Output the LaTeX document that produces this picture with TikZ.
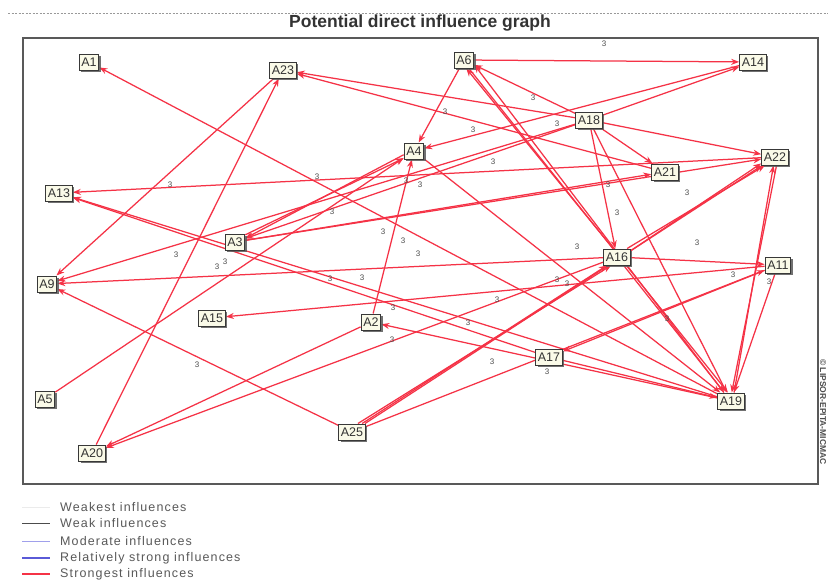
\documentclass[tikz,border=0pt]{standalone}
\usepackage{fontspec}
\setmainfont{Liberation Sans}
\usetikzlibrary{arrows.meta,shadows}
\pgfdeclarelayer{edgelayer}
\pgfsetlayers{edgelayer,main}
\definecolor{edgered}{RGB}{245,50,70}
\definecolor{nodefill}{RGB}{250,250,232}
\definecolor{strongblue}{RGB}{90,90,215}
\definecolor{modblue}{RGB}{160,160,235}
\tikzset{
  nd/.style={draw=black!78, line width=1pt, fill=nodefill, inner xsep=2.2pt, inner ysep=1.5pt,
    minimum height=16pt, font=\fontsize{12.5}{12.5}\selectfont, text=black!80,
    drop shadow={shadow xshift=2pt, shadow yshift=-2pt, fill=black!65, opacity=0.85}},
  ed/.style={draw=edgered, line width=1.25pt, -{Stealth[length=8pt,width=6pt]}},
  lbl/.style={font=\fontsize{8}{8}\selectfont, text=black!70, inner sep=0pt},
  legtxt/.style={anchor=west, font=\fontsize{12.5}{12.5}\selectfont\addfontfeature{LetterSpace=9}, text=black!65, inner sep=0pt}
}
\begin{document}
\begin{tikzpicture}[x=1pt,y=-1pt]
\begin{pgfonlayer}{edgelayer}
\fill[white] (0,0) rectangle (828,581);
\end{pgfonlayer}
\useasboundingbox (0,0) rectangle (828,581);
% header
\draw[black!40, line width=0.6pt, dash pattern=on 2pt off 1.5pt] (8,13) -- (828,13);
\node[font=\bfseries\fontsize{17.5}{17.5}\selectfont, text=black!80] (title) at (420,23) {Potential direct influence graph};
\draw[black!65, line width=1.5pt] (23,38) rectangle (818,484);
\node[rotate=-90, font=\bfseries\fontsize{8.5}{8.5}\selectfont, text=black!70] (copy) at (823,412) {\copyright\ LIPSOR-EPITA-MICMAC};
% nodes
\node[nd] (A1) at (89,62) {A1};
\node[nd] (A23) at (283,70) {A23};
\node[nd] (A6) at (464,60) {A6};
\node[nd] (A14) at (753,62) {A14};
\node[nd] (A18) at (589,120) {A18};
\node[nd] (A4) at (414,151) {A4};
\node[nd] (A22) at (775,157) {A22};
\node[nd] (A21) at (665,172) {A21};
\node[nd] (A13) at (59,193) {A13};
\node[nd] (A3) at (235,242) {A3};
\node[nd] (A16) at (617,257) {A16};
\node[nd] (A11) at (778,265) {A11};
\node[nd] (A9) at (47,284) {A9};
\node[nd] (A15) at (212,318) {A15};
\node[nd] (A2) at (371,322) {A2};
\node[nd] (A17) at (549,357) {A17};
\node[nd] (A5) at (45,399) {A5};
\node[nd] (A19) at (731,401) {A19};
\node[nd] (A25) at (352,432) {A25};
\node[nd] (A20) at (92,453) {A20};
% edges
\begin{pgfonlayer}{edgelayer}
\draw[ed] (A6) -- (A14);
\draw[ed] (A18) -- (A14);
\draw[ed] (A14) -- (A4);
\draw[ed] (A6) -- (A4);
\draw[ed] (A18) -- (A6);
\draw[ed] (A18) -- (A23);
\draw[ed] (A21) -- (A23);
\draw[ed] (A20) -- (A23);
\draw[ed] (A23) -- (A9);
\draw[ed] (A19) -- (A1);
\draw[ed] (A22) -- (A13);
\draw[ed] (A19) -- (A13);
\draw[ed] (A17) -- (A13);
\draw[ed] (A4.200) -- (A3.20);
\draw[ed] (A3.35) -- (A4.215);
\draw[ed] (A5) -- (A4);
\draw[ed] (A2) -- (A4);
\draw[ed] (A18) -- (A22);
\draw[ed] (A18) -- (A16);
\draw[ed] (A18) -- (A21);
\draw[ed] (A18) -- (A19);
\draw[ed] (A18) -- (A3);
\draw[ed] (A18) -- (A9);
\draw[ed] (A16.115) -- (A6.-75);
\draw[ed] (A19.130) -- (A6.-25);
\draw[ed] (A4) -- (A19);
\draw[ed] (A16.25) -- (A22.205);
\draw[ed] (A16.40) -- (A22.220);
\draw[ed] (A16) -- (A11);
\draw[ed] (A16) -- (A9);
\draw[ed] (A16) -- (A20);
\draw[ed] (A16) -- (A19);
\draw[ed] (A11) -- (A15);
\draw[ed] (A11) -- (A17);
\draw[ed] (A11) -- (A19);
\draw[ed] (A19.70) -- (A22.260);
\draw[ed] (A22.280) -- (A19.85);
\draw[ed] (A3) -- (A22);
\draw[ed] (A3) -- (A21);
\draw[ed] (A25) -- (A9);
\draw[ed] (A25.40) -- (A16.220);
\draw[ed] (A25.55) -- (A16.235);
\draw[ed] (A25) -- (A22);
\draw[ed] (A25) -- (A11);
\draw[ed] (A17) -- (A19);
\draw[ed] (A19) -- (A2);
\draw[ed] (A2) -- (A20);
\draw[ed] (A6.-60) -- (A19.110);
\end{pgfonlayer}
% labels
\foreach \p [count=\i] in {(604,44),(445,112),(473,130),(557,124),(493,162),(317,177),(170,185),(406,181),(420,185),(608,185),(687,193),(332,212),(617,213),(383,232),(403,241),(418,254),(577,247),(697,243),(176,255),(225,262),(217,267),(330,279),(362,278),(557,280),(567,284),(733,275),(769,282),(497,300),(393,308),(468,323),(667,319),(392,340),(197,365),(492,362),(547,372),(533,98)}
  \node[lbl] (l\i) at \p {3};
% legend
\draw[black!8, line width=0.8pt] (22,507) coordinate (w1) -- (50,507) coordinate (w2);
\draw[black!70, line width=0.6pt] (22,523) coordinate (k1) -- (50,523) coordinate (k2);
\draw[modblue, line width=0.8pt] (22,541) coordinate (m1) -- (50,541) coordinate (m2);
\draw[strongblue, line width=2pt] (22,558) coordinate (s1) -- (50,558) coordinate (s2);
\draw[edgered, line width=2pt] (22,574) coordinate (r1) -- (50,574) coordinate (r2);
\node[legtxt] (t1) at (60,507) {Weakest influences};
\node[legtxt] (t2) at (60,523) {Weak influences};
\node[legtxt] (t3) at (60,541) {Moderate influences};
\node[legtxt] (t4) at (60,558) {Relatively strong influences};
\node[legtxt] (t5) at (60,574) {Strongest influences};
\end{tikzpicture}
\end{document}
